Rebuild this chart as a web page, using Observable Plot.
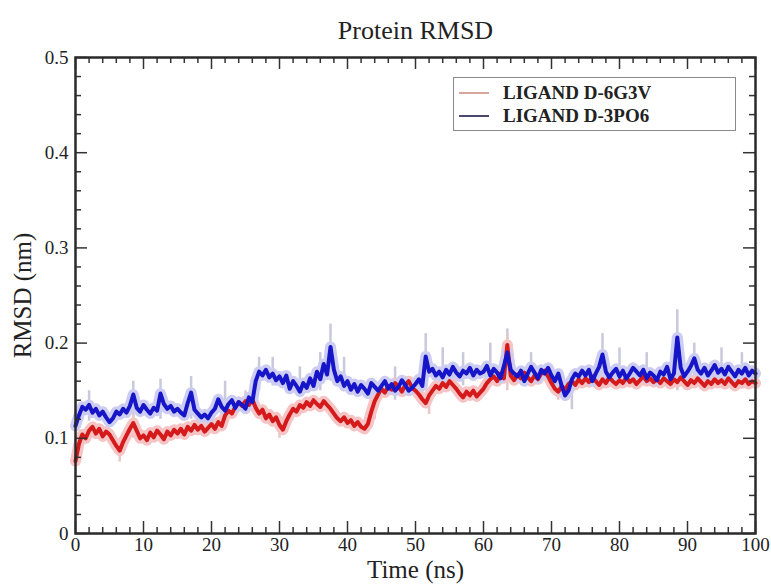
<!DOCTYPE html>
<html>
<head>
<meta charset="utf-8">
<script src="https://cdn.jsdelivr.net/npm/d3@7"></script>
<script src="https://cdn.jsdelivr.net/npm/@observablehq/plot@0.6"></script>
<style>
  html, body { margin: 0; padding: 0; background: #fff; }
  #wrap { position: relative; width: 771px; height: 584px; }
  #legend {
    position: absolute; left: 453px; top: 77px; width: 283px; height: 54px;
    border: 1.5px solid #8a8a8a; box-sizing: border-box; background: #fff;
    font-family: "Liberation Serif", "Times New Roman", serif; font-weight: bold; font-size: 19px; color: #222;
  }
  .item { position: absolute; left: 5px; height: 22px; display: flex; align-items: center; }
  .item .sw { width: 30px; height: 2.5px; margin-right: 14px; }
</style>
</head>
<body>
<div id="wrap"><div id="legend"></div></div>
<script>
const seriesNames = ["LIGAND D-6G3V", "LIGAND D-3PO6"];
const times = d3.range(0, 100.5, 0.5);

const red6G3V = [
  0.076,0.094,0.104,0.100,0.108,0.112,0.105,0.110,0.102,0.107,
  0.104,0.098,0.092,0.087,0.096,0.103,0.110,0.116,0.108,0.100,
  0.103,0.098,0.106,0.101,0.108,0.104,0.099,0.107,0.103,0.109,
  0.105,0.110,0.104,0.112,0.108,0.114,0.109,0.113,0.107,0.111,
  0.115,0.110,0.117,0.113,0.124,0.129,0.126,0.133,0.138,0.134,
  0.139,0.135,0.141,0.132,0.126,0.130,0.121,0.125,0.118,0.122,
  0.114,0.109,0.118,0.125,0.131,0.128,0.135,0.132,0.138,0.134,
  0.140,0.136,0.133,0.139,0.135,0.131,0.126,0.121,0.118,0.122,
  0.116,0.119,0.113,0.117,0.112,0.110,0.115,0.128,0.139,0.146,
  0.152,0.148,0.155,0.151,0.158,0.154,0.149,0.156,0.160,0.153,
  0.150,0.146,0.141,0.137,0.145,0.150,0.155,0.152,0.158,0.154,
  0.160,0.156,0.152,0.147,0.143,0.149,0.145,0.150,0.144,0.148,
  0.152,0.158,0.162,0.165,0.160,0.168,0.163,0.198,0.166,0.161,
  0.167,0.163,0.169,0.164,0.160,0.166,0.162,0.168,0.171,0.165,
  0.158,0.152,0.149,0.155,0.151,0.157,0.160,0.156,0.162,0.158,
  0.163,0.159,0.165,0.160,0.156,0.162,0.158,0.164,0.160,0.157,
  0.161,0.158,0.164,0.159,0.162,0.157,0.161,0.165,0.160,0.163,
  0.159,0.162,0.158,0.163,0.160,0.157,0.162,0.159,0.164,0.160,
  0.156,0.161,0.158,0.163,0.159,0.155,0.160,0.157,0.162,0.158,
  0.161,0.157,0.163,0.159,0.155,0.160,0.158,0.162,0.157,0.160,
  0.158
];

const blue3PO6 = [
  0.113,0.124,0.133,0.130,0.135,0.127,0.131,0.124,0.128,0.122,
  0.117,0.121,0.128,0.125,0.131,0.127,0.134,0.146,0.132,0.128,
  0.135,0.130,0.126,0.132,0.129,0.147,0.136,0.131,0.134,0.128,
  0.131,0.127,0.124,0.137,0.148,0.130,0.126,0.122,0.125,0.121,
  0.127,0.131,0.141,0.133,0.129,0.136,0.140,0.132,0.138,0.135,
  0.131,0.143,0.138,0.160,0.170,0.166,0.172,0.164,0.168,0.161,
  0.165,0.158,0.166,0.152,0.160,0.155,0.149,0.158,0.153,0.163,
  0.155,0.170,0.162,0.178,0.167,0.196,0.172,0.160,0.165,0.155,
  0.160,0.151,0.157,0.149,0.156,0.152,0.147,0.158,0.154,0.150,
  0.155,0.160,0.152,0.157,0.150,0.154,0.161,0.156,0.150,0.153,
  0.157,0.162,0.155,0.186,0.170,0.173,0.166,0.170,0.164,0.172,
  0.167,0.175,0.169,0.165,0.171,0.168,0.174,0.166,0.172,0.168,
  0.170,0.176,0.166,0.173,0.169,0.163,0.176,0.190,0.172,0.168,
  0.165,0.171,0.160,0.168,0.175,0.169,0.163,0.172,0.168,0.174,
  0.166,0.160,0.168,0.155,0.145,0.150,0.162,0.168,0.165,0.171,
  0.166,0.172,0.160,0.168,0.175,0.188,0.170,0.164,0.169,0.173,
  0.165,0.171,0.163,0.168,0.174,0.170,0.166,0.172,0.163,0.169,
  0.166,0.161,0.170,0.167,0.175,0.162,0.168,0.206,0.174,0.165,
  0.170,0.176,0.184,0.172,0.168,0.174,0.166,0.171,0.177,0.169,
  0.173,0.167,0.175,0.170,0.165,0.172,0.168,0.174,0.166,0.171,
  0.168
];

// pale spikes of the raw signal: [time, low, high]
const blueSpikes = [
  [2,0.118,0.150],[8.5,0.120,0.160],[12.5,0.120,0.162],[17,0.120,0.165],[22,0.125,0.160],
  [27,0.150,0.185],[29,0.155,0.185],[33,0.145,0.175],[36,0.150,0.190],[37.5,0.160,0.220],
  [39.5,0.150,0.185],[47,0.140,0.175],[51.5,0.150,0.210],[54,0.155,0.195],[57,0.155,0.190],
  [61,0.155,0.200],[63.5,0.160,0.215],[67,0.155,0.190],[73,0.130,0.165],[77.5,0.155,0.210],
  [80,0.155,0.195],[84,0.155,0.190],[88.5,0.150,0.235],[91,0.160,0.200],[95,0.160,0.195],[98,0.160,0.190]
];
const redSpikes = [
  [6.5,0.075,0.100],[8.5,0.100,0.125],[25,0.125,0.150],[30,0.100,0.120],
  [44,0.120,0.150],[52,0.125,0.150],[63.5,0.150,0.210],[71,0.140,0.165]
];

const xMajor = [0,10,20,30,40,50,60,70,80,90,100];
const xLabels = ["0","10","20","30","40","50","60","70","80","90","100"];
const yMajor = [0,0.1,0.2,0.3,0.4,0.5];
const yLabels = ["0","0.1","0.2","0.3","0.4","0.5"];
const xMinor = d3.range(0, 101, 2).filter(d => d % 10 !== 0);
const yMinor = d3.range(1, 25).filter(i => i % 5 !== 0).map(i => i * 0.02);

const titleText = "Protein RMSD";
const xTitle = "Time (ns)";
const yTitle = "RMSD (nm)";

// ---- build tables ----
const redData = times.map((t, i) => ({t, v: red6G3V[i]}));
const blueData = times.map((t, i) => ({t, v: blue3PO6[i]}));
const toSpike = s => ({t: s[0], lo: s[1], hi: s[2]});

const W = 771, H = 584, mL = 75, mR = 16, mT = 57, mB = 51;
const plotW = W - mL - mR, plotH = H - mT - mB;
const font = "'Liberation Serif', 'Times New Roman', serif";

const colors = {red: "#d41a1a", blue: "#1616c8", redHalo: "#f6c4c4", blueHalo: "#cdcdf3", spike: "#c9c9dc"};

const chart = Plot.plot({
  width: W, height: H,
  marginLeft: mL, marginRight: mR, marginTop: mT, marginBottom: mB,
  style: {fontFamily: font, fontSize: "18px", color: "#222", background: "#fff"},
  x: {domain: [0, 100]},
  y: {domain: [0, 0.5]},
  marks: [
    // raw signal spikes and halos
    Plot.ruleX(blueSpikes.map(toSpike), {x: "t", y1: "lo", y2: "hi", stroke: colors.spike, strokeWidth: 2.5}),
    Plot.ruleX(redSpikes.map(toSpike), {x: "t", y1: "lo", y2: "hi", stroke: "#e8c8c8", strokeWidth: 2.5}),
    Plot.line(redData, {x: "t", y: "v", stroke: colors.redHalo, strokeWidth: 11}),
    Plot.line(blueData, {x: "t", y: "v", stroke: colors.blueHalo, strokeWidth: 11}),
    Plot.line(redData, {x: "t", y: "v", stroke: colors.red, strokeWidth: 4}),
    Plot.line(blueData, {x: "t", y: "v", stroke: colors.blue, strokeWidth: 4}),
    // inward ticks
    Plot.tickX(xMajor, {x: d => d, insetTop: plotH - 12, stroke: "#333", strokeWidth: 1.5}),
    Plot.tickX(xMinor, {x: d => d, insetTop: plotH - 6, stroke: "#333", strokeWidth: 1.5}),
    Plot.tickX(xMajor, {x: d => d, insetBottom: plotH - 12, stroke: "#333", strokeWidth: 1.5}),
    Plot.tickX(xMinor, {x: d => d, insetBottom: plotH - 6, stroke: "#333", strokeWidth: 1.5}),
    Plot.tickY(yMajor, {y: d => d, insetRight: plotW - 12, stroke: "#333", strokeWidth: 1.5}),
    Plot.tickY(yMinor, {y: d => d, insetRight: plotW - 6, stroke: "#333", strokeWidth: 1.5}),
    Plot.tickY(yMajor, {y: d => d, insetLeft: plotW - 12, stroke: "#333", strokeWidth: 1.5}),
    Plot.tickY(yMinor, {y: d => d, insetLeft: plotW - 6, stroke: "#333", strokeWidth: 1.5}),
    Plot.frame({stroke: "#2a2a2a", strokeWidth: 2.5}),
    // axes (labels only)
    Plot.axisX(xMajor, {tickSize: 0, tickPadding: 4, tickFormat: (d, i) => xLabels[i], fontSize: 19, label: null}),
    Plot.axisY(yMajor, {tickSize: 0, tickPadding: 7, tickFormat: (d, i) => yLabels[i], fontSize: 19, label: null}),
    // titles
    Plot.text([titleText], {text: d => d, frameAnchor: "top", lineAnchor: "bottom", dy: -19, fontSize: 26, fill: "#222"}),
    Plot.text([xTitle], {text: d => d, frameAnchor: "bottom", lineAnchor: "top", dy: 27, fontSize: 25, fill: "#222"}),
    Plot.text([yTitle], {text: d => d, frameAnchor: "left", rotate: -90, textAnchor: "middle", dx: -53, fontSize: 25, fill: "#222"})
  ]
});
document.getElementById("wrap").prepend(chart);

// legend
const legend = document.getElementById("legend");
const legendColors = ["#d7a59c", "#4a4a6e"];
seriesNames.forEach((name, i) => {
  const item = document.createElement("div");
  item.className = "item";
  item.style.top = (i === 0 ? 4 : 27) + "px";
  const sw = document.createElement("div");
  sw.className = "sw";
  sw.style.background = legendColors[i];
  const tx = document.createElement("span");
  tx.textContent = name;
  item.append(sw, tx);
  legend.append(item);
});
</script>
</body>
</html>
